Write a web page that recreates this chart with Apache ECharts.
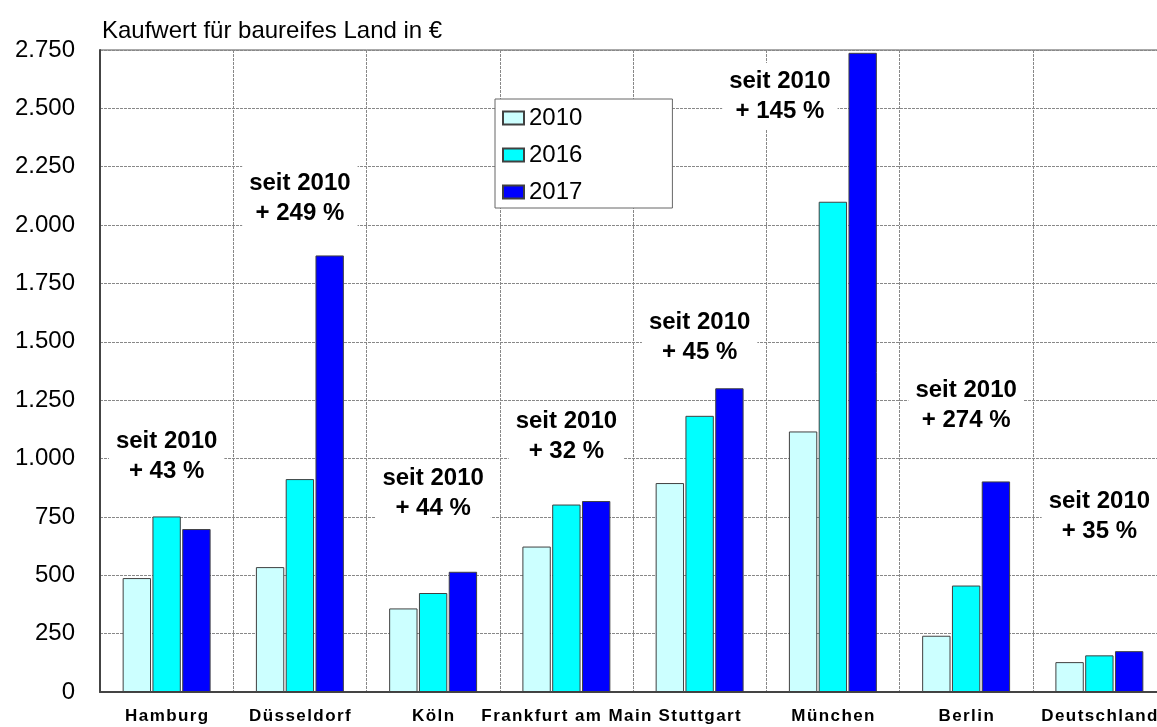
<!DOCTYPE html>
<html>
<head>
<meta charset="utf-8">
<script src="https://cdn.jsdelivr.net/npm/echarts@6/dist/echarts.min.js"></script>
<style>
  html, body { margin: 0; padding: 0; background: #fff; overflow: hidden; }
  /* the plot runs past the right edge of the picture, so the canvas is a bit wider */
  #main { width: 1180px; height: 727px; }
</style>
</head>
<body>
<div id="main"></div>
<script>
// categories and values (Kaufwert fuer baureifes Land, EUR per m2)
const cities = ['Hamburg', 'Düsseldorf', 'Köln', 'Frankfurt am Main', 'Stuttgart', 'München', 'Berlin', 'Deutschland'];
const years = ['2010', '2016', '2017'];
const values2010 = [488, 535, 358, 623, 895, 1116, 241, 128];
const values2016 = [752, 912, 424, 803, 1183, 2100, 456, 157];
const values2017 = [698, 1870, 515, 818, 1301, 2738, 902, 175];
const growth = ['+ 43 %', '+ 249 %', '+ 44 %', '+ 32 %', '+ 45 %', '+ 145 %', '+ 274 %', '+ 35 %'];
// value level where each note sits
const noteLevel = [1010, 2115, 852, 1093, 1521, 2553, 1226, 751];

const FONT = '"Liberation Sans", Arial, sans-serif';
const fmt = v => String(v).replace(/\B(?=(\d{3})+(?!\d))/g, '.');
// the category names are drawn slightly letter-spaced
const spaced = s => s.split('').join('\u200A');

var chartDom = document.getElementById('main');
var myChart = echarts.init(chartDom, null, { renderer: 'canvas' });

const barStyle = c => ({ color: c, borderColor: '#404040', borderWidth: 1 });

var option = {
  animation: false,
  textStyle: { fontFamily: FONT },
  title: {
    text: 'Kaufwert für baureifes Land in €',
    left: 97,
    top: 14,
    textStyle: { fontSize: 24, fontWeight: 'normal', color: '#000', fontFamily: FONT }
  },
  legend: {
    data: years,
    orient: 'vertical',
    left: 495,
    top: 99,
    padding: [7, 90, 4, 7],
    itemGap: 13,
    itemWidth: 21,
    itemHeight: 13,
    icon: 'rect',
    backgroundColor: '#fff',
    borderColor: '#666',
    borderWidth: 1,
    textStyle: { fontSize: 24, color: '#000', fontFamily: FONT }
  },
  grid: {
    left: 100,
    top: 50,
    width: 1066,
    height: 642,
    show: true,
    borderColor: '#555',
    borderWidth: 1
  },
  xAxis: {
    type: 'category',
    data: cities,
    axisLine: { lineStyle: { color: '#444', width: 2 } },
    axisTick: { show: false },
    axisLabel: {
      fontSize: 17, fontWeight: 'bold', color: '#000', margin: 16, interval: 0,
      fontFamily: FONT, formatter: spaced
    },
    splitLine: { show: true, interval: 0, lineStyle: { color: '#888', type: [3, 1], width: 1 } }
  },
  yAxis: {
    type: 'value',
    min: 0,
    max: 2750,
    interval: 250,
    axisLine: { show: true, lineStyle: { color: '#444', width: 2 } },
    axisTick: { show: false },
    axisLabel: { fontSize: 24, color: '#000', margin: 25, formatter: fmt, fontFamily: FONT },
    splitLine: { lineStyle: { color: '#888', type: [3, 1], width: 1 } }
  },
  series: [
    { name: '2010', type: 'bar', data: values2010, itemStyle: barStyle('#CCFFFF'), barGap: '5%', barCategoryGap: '34%' },
    { name: '2016', type: 'bar', data: values2016, itemStyle: barStyle('#00FFFF') },
    { name: '2017', type: 'bar', data: values2017, itemStyle: barStyle('#0000FF') },
    {
      name: 'notes',
      type: 'scatter',
      symbolSize: 1,
      itemStyle: { color: 'rgba(255,255,255,0)' },
      z: 5,
      data: cities.map((c, i) => ({
        value: [c, noteLevel[i]],
        label: { offset: [c === 'München' ? -53 : 0, 0] }
      })),
      label: {
        show: true,
        position: 'inside',
        formatter: p => 'seit 2010\n' + growth[p.dataIndex],
        fontSize: 24,
        fontWeight: 'bold',
        lineHeight: 30,
        color: '#000',
        opacity: 1,
        textBorderWidth: 0,
        fontFamily: FONT,
        backgroundColor: '#fff',
        padding: [3, 7]
      },
      silent: true
    }
  ]
};

option && myChart.setOption(option);
</script>
</body>
</html>
